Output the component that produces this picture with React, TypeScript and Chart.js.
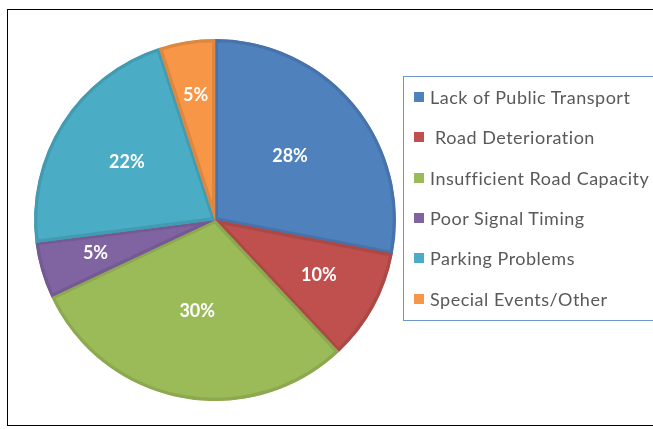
import React, { useEffect, useRef } from "react";
import { Chart, registerables } from "chart.js";

Chart.register(...registerables);

const categories = [
  "Lack of Public Transport",
  " Road Deterioration",
  "Insufficient Road Capacity",
  "Poor Signal Timing",
  "Parking Problems",
  "Special Events/Other",
];
const values = [28, 10, 30, 5, 22, 5];
const fillColors = ["#4F81BD", "#C0504D", "#9BBB59", "#8064A2", "#4BACC6", "#F79646"];
const borderColors = ["#4773AA", "#AC4845", "#8CA950", "#735A92", "#439BB2", "#DE873F"];

const labelPlugin = {
  id: "sliceLabels",
  afterDatasetsDraw(chart: any) {
    const ctx = chart.ctx;
    const meta = chart.getDatasetMeta(0);
    const data = chart.data.datasets[0].data as number[];
    const total = data.reduce((a, b) => a + b, 0);
    ctx.save();
    ctx.fillStyle = "#ffffff";
    ctx.font = "bold 18px Lato";
    ctx.textAlign = "center";
    ctx.textBaseline = "middle";
    meta.data.forEach((arc: any, i: number) => {
      const { x, y, startAngle, endAngle, outerRadius } = arc.getProps(
        ["x", "y", "startAngle", "endAngle", "outerRadius"],
        true
      );
      const frac = data[i] / total;
      const mid = (startAngle + endAngle) / 2;
      const d = outerRadius * (0.72 - 0.65 * frac);
      ctx.fillText(Math.round(frac * 100) + "%", x + Math.cos(mid) * d, y + Math.sin(mid) * d - 2);
    });
    ctx.restore();
  },
};

export default function App() {
  const ref = useRef<HTMLCanvasElement>(null);
  useEffect(() => {
    if (!ref.current) return;
    const chart = new Chart(ref.current, {
      type: "pie",
      data: {
        labels: categories,
        datasets: [
          {
            data: values,
            backgroundColor: fillColors,
            borderColor: borderColors,
            borderWidth: 3,
            borderAlign: "inner",
          } as any,
        ],
      },
      options: {
        animation: false,
        responsive: false,
        layout: { padding: { left: 34, top: 39, right: 257, bottom: 28 } },
        plugins: { legend: { display: false }, tooltip: { enabled: false } },
      },
      plugins: [labelPlugin],
    });
    return () => chart.destroy();
  }, []);

  return (
    <div
      style={{
        position: "fixed",
        left: 0,
        top: 0,
        width: 653,
        height: 429,
        background: "#fff",
        overflow: "hidden",
        fontFamily: "Lato, sans-serif",
      }}
    >
      <div
        style={{
          position: "absolute",
          left: 7,
          top: 9,
          width: 700,
          height: 417,
          border: "1px solid #000",
          boxSizing: "border-box",
        }}
      />
      <canvas
        ref={ref}
        width={653}
        height={429}
        style={{ position: "absolute", left: 0, top: 0, width: 653, height: 429 }}
      />
      <div
        style={{
          position: "absolute",
          left: 403,
          top: 76,
          width: 300,
          height: 245,
          border: "1px solid #7097CC",
          boxSizing: "border-box",
        }}
      >
        {categories.map((c, i) => (
          <div
            key={c}
            style={{
              position: "absolute",
              left: 10,
              top: 20 + i * 40.3 - 12,
              height: 24,
              display: "flex",
              alignItems: "center",
              whiteSpace: "pre",
              color: "#595959",
              fontSize: 18,
              letterSpacing: 0.5,
            }}
          >
            <span
              style={{
                display: "inline-block",
                width: 10,
                height: 10,
                background: fillColors[i],
                marginRight: 6,
              }}
            />
            <span>{c}</span>
          </div>
        ))}
      </div>
    </div>
  );
}
